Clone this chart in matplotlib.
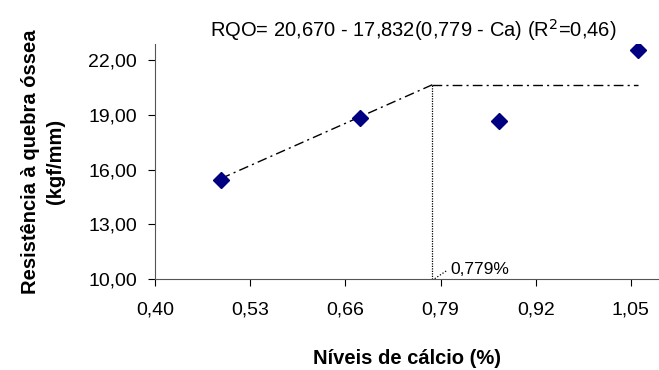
import numpy as np
import matplotlib.pyplot as plt

plt.rcParams['font.family'] = ['Liberation Sans', 'DejaVu Sans']

# dados
calcio = [0.49, 0.68, 0.87, 1.06]
rqo = [15.45, 18.85, 18.65, 22.6]
xticks = [0.40, 0.53, 0.66, 0.79, 0.92, 1.05]
yticks = [10, 13, 16, 19, 22]

# modelo platô linear
plato = 20.670
b = 17.832
ponto = 0.779

fig = plt.figure(figsize=(6.59, 3.70), dpi=100)
ax = fig.add_axes([0.2352, 0.2459, 0.7633, 0.635])

xs = np.array([calcio[0], ponto])
ax.plot(xs, plato - b * (ponto - xs), color='black', lw=1, ls=(0, (7, 3, 1.5, 3)))
ax.plot([ponto, calcio[-1]], [plato, plato], color='black', lw=1, ls=(0, (7, 3, 1.5, 3)))
ax.plot([ponto, ponto], [10, plato], color='black', lw=0.9, ls=(0, (1, 1)))
ax.plot([ponto + 0.003, 0.798], [10.02, 10.45], color='black', lw=0.9, ls=(0, (1, 1.5)))
ax.text(0.804, 10.3, '0,779%', fontsize=12.5)

ax.plot(calcio, rqo, 'D', color='#000080', ms=8.5, ls='none')

ax.set_xlim(0.40, 1.087)
ax.set_ylim(10, 22.9)
ax.set_xticks(xticks)
ax.set_xticklabels([f'{v:.2f}'.replace('.', ',') for v in xticks], fontsize=14)
ax.set_yticks(yticks)
ax.set_yticklabels([f'{v:.2f}'.replace('.', ',') for v in yticks], fontsize=14)
ax.tick_params(direction='out', length=5, width=0.8)
ax.tick_params(axis='x', pad=11)
ax.tick_params(axis='y', pad=8)
for s in ['top', 'right']:
    ax.spines[s].set_visible(False)
for s in ['left', 'bottom']:
    ax.spines[s].set_color('#555555')

ax.set_xlabel('Níveis de cálcio (%)', fontsize=14.5, fontweight='bold', labelpad=22)
ax.set_ylabel('Resistência à quebra óssea\n(kgf/mm)', fontsize=14.5, fontweight='bold',
              labelpad=17, linespacing=1.35)
fig.text(0.627, 0.92, 'RQO= 20,670 - 17,832(0,779 - Ca) (R$^{2}$=0,46)', fontsize=14.5,
         ha='center', va='center')

fig.savefig('out.png')
